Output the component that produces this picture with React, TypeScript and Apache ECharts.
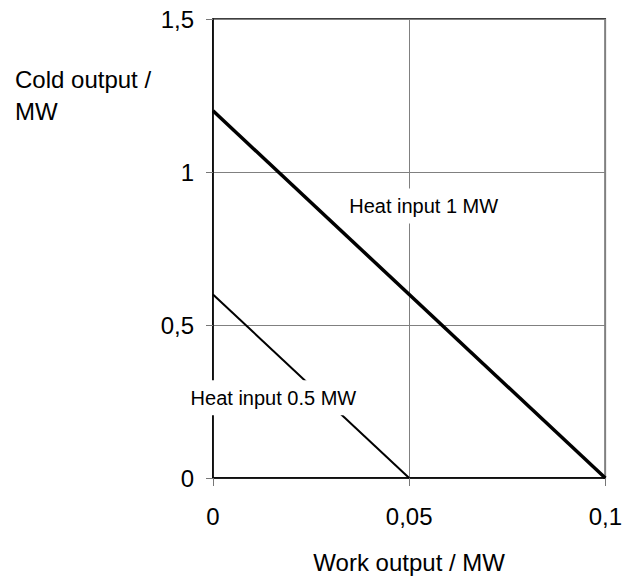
import React, { useEffect, useRef } from "react";
import * as echarts from "echarts";

const work1MW = [0, 0.1];
const cold1MW = [1.2, 0];
const work05MW = [0, 0.05];
const cold05MW = [0.6, 0];
const label1MW = { text: "Heat input 1 MW", x: 0.0537, y: 0.889 };
const label05MW = { text: "Heat input 0.5 MW", x: 0.0154, y: 0.262 };
const yAxisTitle = "Cold output /\nMW";
const xAxisTitle = "Work output / MW";

const FONT = "'Liberation Sans', Arial, sans-serif";
const fmt = (v: number) => String(v).replace(".", ",");

export default function App() {
  const ref = useRef<HTMLDivElement>(null);
  useEffect(() => {
    const chart = echarts.init(ref.current!, null, { renderer: "svg" });
    const mkLabel = (l: { text: string; x: number; y: number }) => ({
      symbol: "rect",
      symbolSize: 1,
      itemStyle: { color: "rgba(0,0,0,0)" },
      label: {
        show: true,
        position: "inside",
        formatter: l.text,
        color: "#000",
        fontFamily: FONT,
        fontSize: 20,
        backgroundColor: "#fff",
        padding: [6, 6, 9, 6],
      },
      data: [{ coord: [l.x, l.y] }],
    });
    chart.setOption({
      animation: false,
      backgroundColor: "#fff",
      textStyle: { fontFamily: FONT },
      grid: {
        left: 213,
        right: 15,
        top: 19,
        bottom: 102,
        show: true,
        borderColor: "#000",
        borderWidth: 1.5,
      },
      graphic: [
        {
          type: "text",
          left: 15,
          top: 63,
          style: {
            text: yAxisTitle,
            fontFamily: FONT,
            fontSize: 24,
            lineHeight: 32,
            fill: "#000",
          },
        },
      ],
      xAxis: {
        type: "value",
        min: 0,
        max: 0.1,
        interval: 0.05,
        name: xAxisTitle,
        nameLocation: "middle",
        nameGap: 72,
        nameTextStyle: { fontSize: 24, color: "#000", fontFamily: FONT },
        axisLine: { show: true, lineStyle: { color: "#000", width: 1.5 } },
        axisTick: { show: true, length: 8, lineStyle: { color: "#777" } },
        axisLabel: {
          fontSize: 24,
          color: "#000",
          margin: 26,
          fontFamily: FONT,
          formatter: fmt,
        },
        splitLine: { show: true, lineStyle: { color: "#808080", width: 1 } },
      },
      yAxis: {
        type: "value",
        min: 0,
        max: 1.5,
        interval: 0.5,
        axisLine: { show: true, lineStyle: { color: "#000", width: 1.5 } },
        axisTick: { show: true, length: 7, lineStyle: { color: "#777" } },
        axisLabel: {
          fontSize: 24,
          color: "#000",
          margin: 19,
          fontFamily: FONT,
          formatter: fmt,
        },
        splitLine: { show: true, lineStyle: { color: "#808080", width: 1 } },
      },
      series: [
        {
          type: "line",
          data: work1MW.map((x, i) => [x, cold1MW[i]]),
          symbol: "none",
          lineStyle: { color: "#000", width: 3.5 },
          markPoint: mkLabel(label1MW),
        },
        {
          type: "line",
          data: work05MW.map((x, i) => [x, cold05MW[i]]),
          symbol: "none",
          lineStyle: { color: "#000", width: 2 },
          markPoint: mkLabel(label05MW),
        },
      ],
    });
    return () => chart.dispose();
  }, []);
  return (
    <div
      ref={ref}
      style={{ position: "fixed", left: 0, top: 0, width: 625, height: 580 }}
    />
  );
}
